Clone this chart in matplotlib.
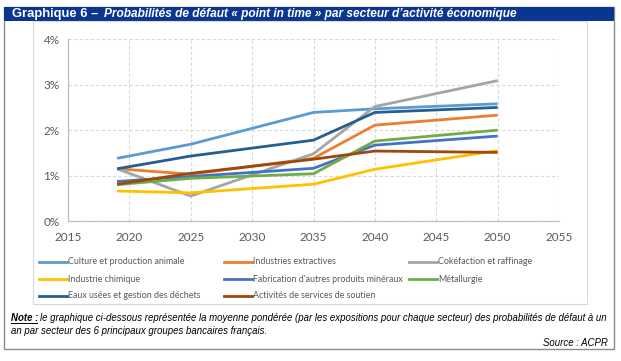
import matplotlib
matplotlib.use("Agg")
import matplotlib.pyplot as plt
from matplotlib.patches import Rectangle
from matplotlib.lines import Line2D
from matplotlib.ticker import FuncFormatter

years = [2019, 2025, 2035, 2040, 2050]
series_names = [
    "Culture et production animale",
    "Industries extractives",
    "Cokéfaction et raffinage",
    "Industrie chimique",
    "Fabrication d'autres produits minéraux",
    "Métallurgie",
    "Eaux usées et gestion des déchets",
    "Activités de services de soutien",
]
culture = [1.38, 1.69, 2.39, 2.47, 2.58]
extractives = [1.15, 1.03, 1.38, 2.11, 2.33]
cokefaction = [1.15, 0.55, 1.48, 2.52, 3.09]
chimique = [0.66, 0.62, 0.81, 1.14, 1.55]
fabrication = [0.87, 0.98, 1.16, 1.67, 1.87]
metallurgie = [0.80, 0.94, 1.04, 1.76, 2.00]
eaux = [1.15, 1.43, 1.78, 2.39, 2.50]
activites = [0.81, 1.05, 1.36, 1.54, 1.51]
x_ticks = [2015, 2020, 2025, 2030, 2035, 2040, 2045, 2050, 2055]
y_ticks = [0, 1, 2, 3, 4]

values = [culture, extractives, cokefaction, chimique, fabrication, metallurgie, eaux, activites]
colors = ["#5B9BD5", "#ED7D31", "#A5A5A5", "#FFC000", "#4472C4", "#70AD47", "#255E91", "#9E480E"]

W, H = 621, 361
fig = plt.figure(figsize=(W / 100, H / 100), dpi=100)

def fx(px):
    return px / W

def fy(py):
    return 1 - py / H

# outer frame
fig.patches.append(Rectangle((fx(4), fy(349)), fx(610), (349 - 7) / H,
                             transform=fig.transFigure, fill=False, edgecolor="#8C8C8C", lw=1.0))
# title bar
fig.patches.append(Rectangle((fx(4), fy(21)), fx(610), 14 / H, transform=fig.transFigure,
                             facecolor="#0A3691", edgecolor="none"))
# inner chart box
fig.patches.append(Rectangle((fx(33), fy(304)), fx(554), (304 - 21) / H, transform=fig.transFigure,
                             fill=False, edgecolor="#D9D9D9", lw=0.8))

fig.text(fx(12), fy(14), "Graphique 6 –", color="white", fontsize=9.4, fontweight="bold",
         family="Liberation Sans", va="center", ha="left")
fig.text(fx(104), fy(14), "Probabilités de défaut « point in time » par secteur d’activité économique",
         color="white", fontsize=8.55, fontweight="bold", style="italic",
         family="Liberation Sans", va="center", ha="left")

ax = fig.add_axes([fx(68), fy(221), fx(559 - 68), (221 - 39.3) / H])
for v, c, n in zip(values, colors, series_names):
    ax.plot(years, v, color=c, lw=2.0, label=n, solid_capstyle="butt")

ax.set_xlim(2015, 2055)
ax.set_ylim(0, 4)
ax.set_xticks(x_ticks)
ax.set_yticks(y_ticks)
ax.yaxis.set_major_formatter(FuncFormatter(lambda v, p: f"{v:.0f}%"))
ax.grid(True, color="#D9D9D9", linestyle=(0, (3, 2)), lw=0.8)
for s in ["top", "right"]:
    ax.spines[s].set_visible(False)
for s in ["left", "bottom"]:
    ax.spines[s].set_color("#BFBFBF")
    ax.spines[s].set_linewidth(0.9)
ax.tick_params(length=0, labelsize=8.5, labelcolor="#595959", pad=8)
for lab in ax.get_xticklabels() + ax.get_yticklabels():
    lab.set_family("Lato")
ax.tick_params(axis="y", pad=6)

# legend
col_line_x = [39, 224, 409]
row_y = [261.5, 279, 296]
for i, (n, c) in enumerate(zip(series_names, colors)):
    r, col = divmod(i, 3)
    x0 = col_line_x[col]
    y0 = row_y[r]
    fig.lines.append(Line2D([fx(x0), fx(x0 + 28)], [fy(y0), fy(y0)], transform=fig.transFigure,
                            color=c, lw=2.0))
    fig.text(fx(x0 + 29), fy(y0), n, fontsize=6.4, color="#595959", family="Lato",
             va="center", ha="left")

# note
fs_note = 6.9
fig.text(fx(11), fy(318), "Note :", fontsize=fs_note, style="italic", fontweight="bold",
         family="Liberation Sans", va="center", ha="left", color="black")
fig.lines.append(Line2D([fx(11), fx(37)], [fy(322.5), fy(322.5)], transform=fig.transFigure,
                        color="black", lw=0.7))
fig.text(fx(40), fy(318),
         "le graphique ci-dessous représentée la moyenne pondérée (par les expositions pour chaque secteur) des probabilités de défaut à un",
         fontsize=fs_note, style="italic", family="Liberation Sans", va="center", ha="left", color="black")
fig.text(fx(11), fy(331), "an par secteur des 6 principaux groupes bancaires français.",
         fontsize=fs_note, style="italic", family="Liberation Sans", va="center", ha="left", color="black")
fig.text(fx(608), fy(343), "Source : ACPR", fontsize=fs_note, style="italic", family="Liberation Sans",
         va="center", ha="right", color="black")

fig.savefig("out.png", dpi=100)
